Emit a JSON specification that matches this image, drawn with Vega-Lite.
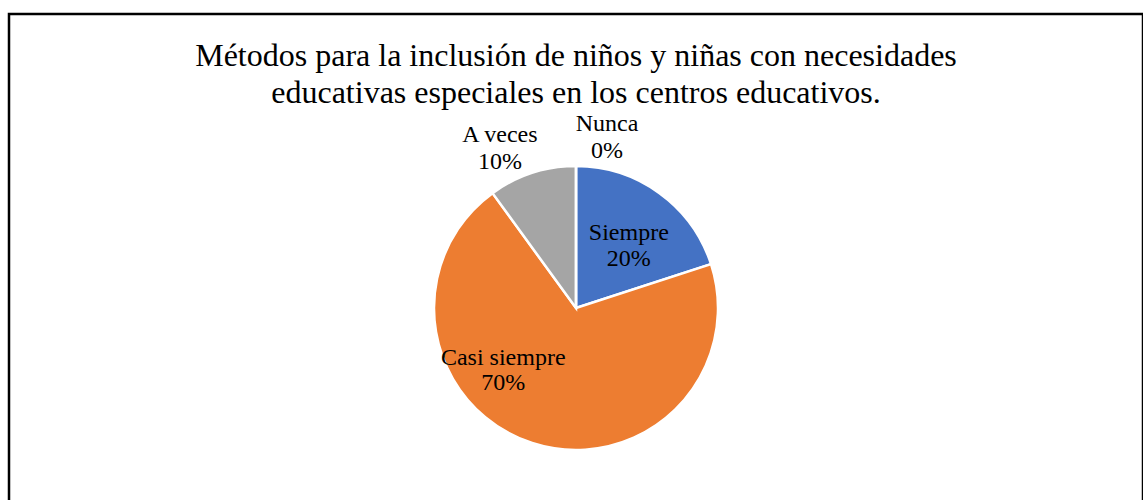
{
  "$schema": "https://vega.github.io/schema/vega-lite/v6.json",
  "width": 1134,
  "height": 588,
  "autosize": "none",
  "padding": {"left": 9, "top": 14, "right": 0, "bottom": 0},
  "background": "white",
  "view": {"stroke": "black", "strokeWidth": 2.5, "fill": "white"},
  "config": {"font": "Liberation Serif"},
  "title": {
    "text": ["Métodos para la inclusión de niños y niñas con necesidades", "educativas especiales en los centros educativos."],
    "font": "Liberation Serif",
    "fontSize": 32,
    "fontWeight": "normal",
    "color": "black",
    "anchor": "middle",
    "frame": "group",
    "baseline": "top",
    "offset": 0,
    "dy": 96,
    "lineHeight": 37
  },
  "data": {
    "values": [
      {"n": 1, "categoria": "Siempre", "valor": 20},
      {"n": 2, "categoria": "Casi siempre", "valor": 70},
      {"n": 3, "categoria": "A veces", "valor": 10},
      {"n": 4, "categoria": "Nunca", "valor": 0}
    ]
  },
  "transform": [
    {"calculate": "datum.categoria + '\\n' + datum.valor + '%'", "as": "etiqueta"}
  ],
  "encoding": {
    "theta": {"field": "valor", "type": "quantitative", "stack": true},
    "order": {"field": "n", "type": "quantitative"}
  },
  "layer": [
    {
      "mark": {"type": "arc", "outerRadius": 142, "stroke": "white", "strokeWidth": 2.5},
      "encoding": {
        "color": {
          "field": "categoria",
          "type": "nominal",
          "scale": {"domain": ["Siempre", "Casi siempre", "A veces", "Nunca"], "range": ["#4472C4", "#ED7D31", "#A5A5A5", "#FFC000"]},
          "legend": null
        }
      }
    },
    {
      "mark": {"type": "text", "radius": 83, "dx": 4, "dy": -8, "fontSize": 24, "lineHeight": 26, "lineBreak": "\n", "font": "Liberation Serif", "color": "black"},
      "encoding": {"text": {"condition": {"test": "datum.categoria === 'Siempre'", "field": "etiqueta"}, "value": ""}}
    },
    {
      "mark": {"type": "text", "radius": 106, "dx": -40, "dy": -51, "fontSize": 24, "lineHeight": 25, "lineBreak": "\n", "font": "Liberation Serif", "color": "black"},
      "encoding": {"text": {"condition": {"test": "datum.categoria === 'Casi siempre'", "field": "etiqueta"}, "value": ""}}
    },
    {
      "mark": {"type": "text", "radius": 175, "dx": -22, "dy": -7, "fontSize": 24, "lineHeight": 27, "lineBreak": "\n", "font": "Liberation Serif", "color": "black"},
      "encoding": {"text": {"condition": {"test": "datum.categoria === 'A veces'", "field": "etiqueta"}, "value": ""}}
    },
    {
      "mark": {"type": "text", "radius": 172, "dx": 31, "dy": -12, "fontSize": 24, "lineHeight": 27, "lineBreak": "\n", "font": "Liberation Serif", "color": "black"},
      "encoding": {"text": {"condition": {"test": "datum.categoria === 'Nunca'", "field": "etiqueta"}, "value": ""}}
    }
  ]
}
